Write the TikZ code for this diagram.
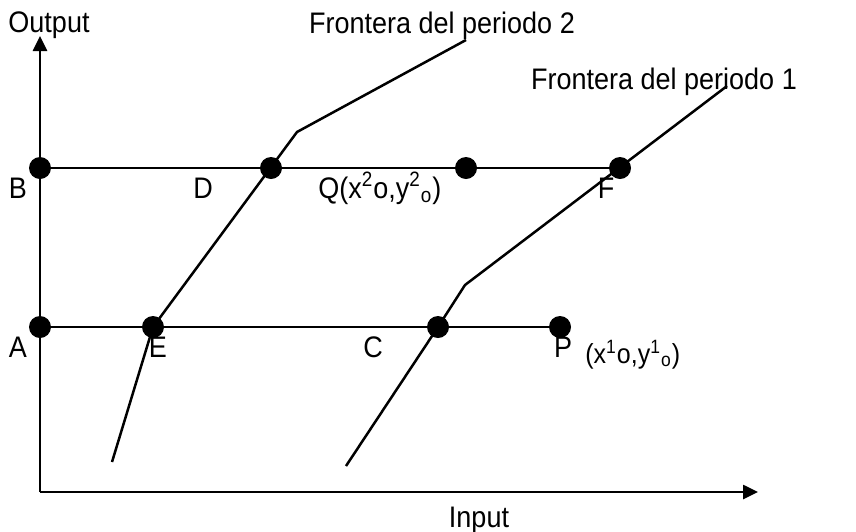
\documentclass[tikz,border=0pt]{standalone}
\usepackage{graphicx}
\usepackage{fontspec}
\setmainfont{Liberation Sans}
\usetikzlibrary{arrows.meta}
\newcommand\tallT[1]{\scalebox{1}[1.1]{#1}}
\tikzset{
	dotP/.style={
		fill,circle,inner sep=0pt,minimum size=11pt
	},
	labT/.style={
		inner sep=0pt, anchor=base, font={\fontsize{13.5}{16}\selectfont}
	},
	labS/.style={
		inner sep=0pt, anchor=base west, font={\fontsize{12.5}{14}\selectfont}
	},
	front/.style={line width=1.25pt, line join=miter},
	>={Triangle[length=7.5pt,width=7pt]},
}

\begin{document}
\begin{tikzpicture}[x=0.5pt, y=-0.5pt]
\useasboundingbox (0,0) rectangle (856,531);
% axes
\coordinate (O) at (40,492);
\coordinate (yend) at (40,36);
\coordinate (xend) at (758,492);
\draw [line width=1.3pt, ->] (O) -- (yend);
\draw [line width=1.3pt, ->] (O) -- (xend);
% points
\node [dotP] (B) at (40,168) {}; \node [dotP] (D) at (271,168) {};
\node [dotP] (Q) at (466,168) {}; \node [dotP] (F) at (620,168) {};
\node [dotP] (A) at (40,327) {}; \node [dotP] (E) at (153,327) {};
\node [dotP] (C) at (438,327) {}; \node [dotP] (P) at (560,327) {};
\draw [line width=1pt] (B.center) -- (F.center);
\draw [line width=1pt] (A.center) -- (P.center);
% frontiers
\coordinate (f2a) at (112,462); \coordinate (f2k) at (297,132); \coordinate (f2b) at (466,40);
\coordinate (f1a) at (346,466); \coordinate (f1k) at (465,285); \coordinate (f1b) at (727,86);
\draw [front] (f2a) -- (E.center) -- (f2k) -- (f2b);
\draw [front] (f1a) -- (C.center) -- (f1k) -- (f1b);
% labels
\node [labT] (lOut) at (49,32) {\tallT{Output}};
\node [labT] (lIn) at (479,527) {\tallT{Input}};
\node [labT] (lF2) at (442,33) {\tallT{Frontera del periodo 2}};
\node [labT] (lF1) at (664,89) {\tallT{Frontera del periodo 1}};
\node [labT] (lB) at (18,198) {\tallT{B}}; \node [labT] (lD) at (203,198) {\tallT{D}};
\node [labT] (lF) at (606,198) {\tallT{F}};
\node [labT, anchor=base west] (lQ) at (318,198) {\tallT{Q(x\textsuperscript{2}o,y\textsuperscript{2}\textsubscript{o})}};
\node [labT] (lA) at (18,357) {\tallT{A}}; \node [labT] (lE) at (158,357) {\tallT{E}};
\node [labT] (lC) at (373,357) {\tallT{C}}; \node [labT] (lP) at (563,357) {\tallT{P}};
\node [labS] (lPxy) at (585,363) {\tallT{(x\textsuperscript{1}o,y\textsuperscript{1}\textsubscript{o})}};
\end{tikzpicture}
\end{document}
